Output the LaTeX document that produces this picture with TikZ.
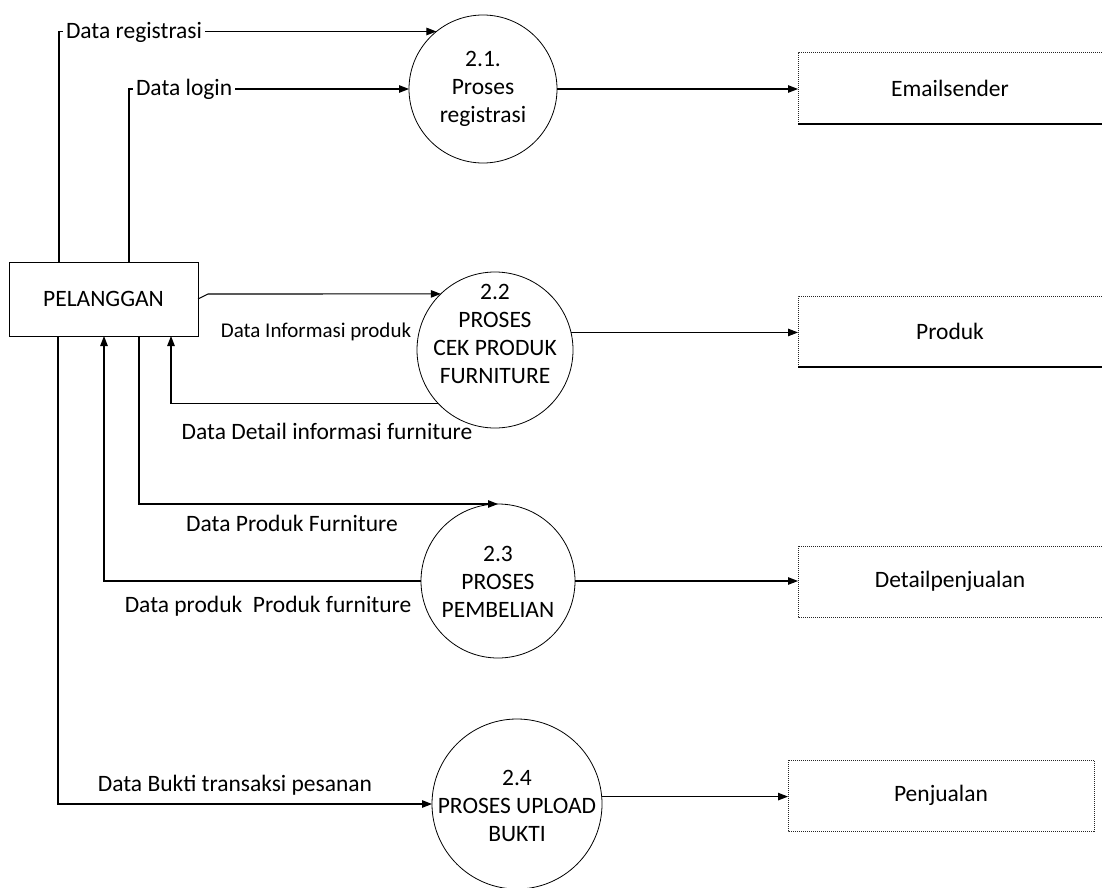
\documentclass[tikz,border=0pt]{standalone}
\usepackage{fontspec}
\setmainfont{Carlito}
\usetikzlibrary{arrows.meta}
\begin{document}
\begin{tikzpicture}[x=1pt,y=-1pt,
  every node/.style={font=\fontsize{23.5}{28}\selectfont, outer sep=0pt},
  flow/.style={line width=1.1pt, -{Triangle[length=10pt,width=7.5pt]}},
  proc/.style={circle, draw, line width=0.8pt, inner sep=0pt},
  ent/.style={rectangle, draw, line width=0.9pt, inner sep=0pt},
  store/.style={rectangle, inner sep=0pt, minimum height=71pt},
  edgedot/.style={line width=1pt, dash pattern=on 1pt off 1pt, black!85},
  edgesolid/.style={line width=1.1pt},
  lbl/.style={inner sep=3pt},
  ptext/.style={align=center, inner sep=0pt},
]
\useasboundingbox (0,0) rectangle (1102,888);

% external entity
\node[ent, minimum width=189pt, minimum height=74pt] (pel) at (103.5,299) {PELANGGAN};

% processes
\node[proc, minimum size=148pt] (c21) at (483,89) {};
\node[ptext] (t21) at (483,89) {2.1.\\Proses\\registrasi};
\node[proc, minimum size=156pt] (c22) at (495,350) {};
\node[ptext] (t22) at (495,334) {2.2\\PROSES\\CEK PRODUK\\FURNITURE};
\node[proc, minimum size=154pt] (c23) at (498,581) {};
\node[ptext] (t23) at (498,582) {2.3\\PROSES\\PEMBELIAN};
\node[proc, minimum size=170pt] (c24) at (517,804) {};
\node[ptext] (t24) at (517,806) {2.4\\PROSES UPLOAD\\BUKTI};

% data stores
\node[store, minimum width=304pt] (es) at (950,88.5) {Emailsender};
\node[store, minimum width=304pt] (prod) at (950,331.5) {Produk};
\node[store, minimum width=304pt] (dp) at (950,581.5) {Detailpenjualan};
\node[store, minimum width=306pt] (pj) at (941,795.5) {Penjualan};

\draw[edgedot] (es.south west) -- (es.north west) -- (es.north east);
\draw[edgesolid] (es.south west) -- (es.south east);
\draw[edgedot] (prod.south west) -- (prod.north west) -- (prod.north east);
\draw[edgesolid] (prod.south west) -- (prod.south east);
\draw[edgedot] (dp.north east) -- (dp.north west) -- (dp.south west) -- (dp.south east);
\draw[edgedot] (pj.north west) rectangle (pj.south east);

% flows from the customer
\draw[flow] ([xshift=50pt]pel.north west) |- (c21.129.6);
\node[lbl, fill=white, anchor=west] (lreg) at (63,32) {Data registrasi};
\draw[flow] ([xshift=120pt]pel.north west) |- (c21.west);
\node[lbl, fill=white, anchor=west] (llog) at (133,89) {Data login};

\draw[flow] (pel.east) -- ++(10,-5) -- (c22.134.1);
\node[lbl, font=\fontsize{21}{25}\selectfont] (linfo) at (316,332) {Data Informasi produk};
\draw[flow] (c22.223.8) -| ([xshift=162pt]pel.south west);
\node[lbl] (ldet) at (327,431) {Data Detail informasi furniture};

\draw[flow] ([xshift=130pt]pel.south west) |- (c23.north);
\node[lbl] (lprod) at (292,523) {Data Produk Furniture};
\draw[flow] (c23.west) -| ([xshift=95pt]pel.south west);
\node[lbl] (lpp) at (268,606) {Data produk~ Produk furniture};

\draw[flow] ([xshift=49pt]pel.south west) |- (c24.west);
\node[lbl] (lbukti) at (235,785) {Data Bukti transaksi pesanan};

% flows into the data stores
\draw[flow] (c21.east) -- (c21.east -| es.west);
\draw[flow] (c22.13.3) -- (c22.13.3 -| prod.west);
\draw[flow] (c23.east) -- (c23.east -| dp.west);
\draw[flow] (c24.5.4) -- (c24.5.4 -| pj.west);
\end{tikzpicture}
\end{document}
